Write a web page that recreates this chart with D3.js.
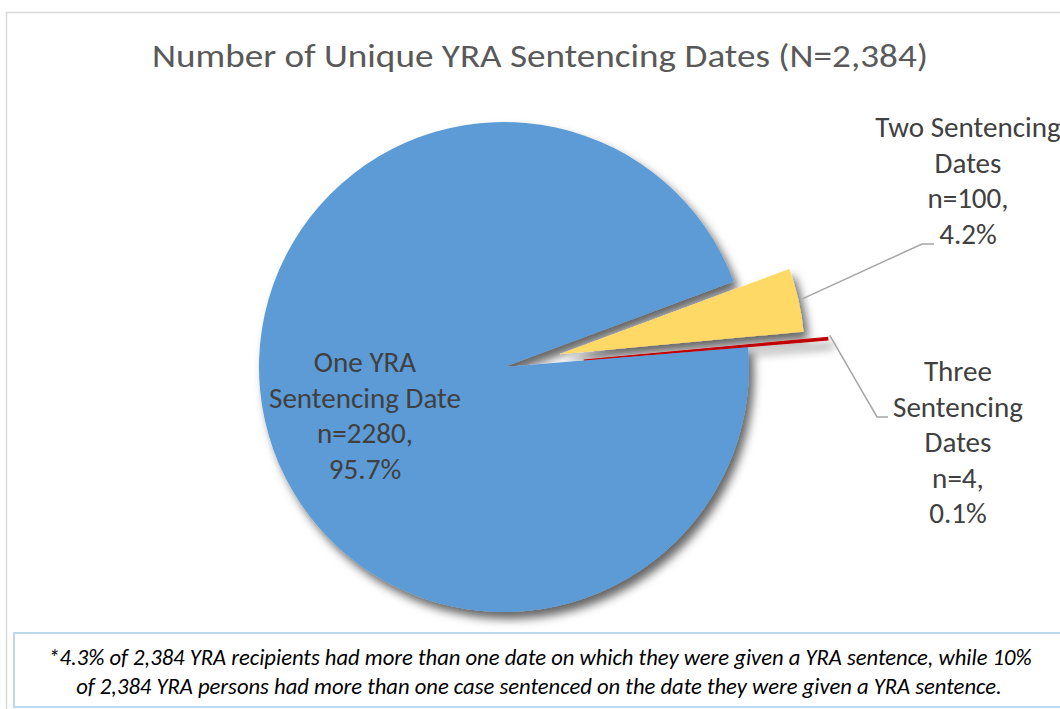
<!DOCTYPE html>
<html>
<head>
<meta charset="utf-8">
<script src="https://cdn.jsdelivr.net/npm/d3@7"></script>
<style>
  body { margin: 0; background: #fff; }
  svg { display: block; }
</style>
</head>
<body>
<svg id="chart" width="1060" height="709"></svg>
<script>
// data
const categories = ['One YRA Sentencing Date', 'Two Sentencing Dates', 'Three Sentencing Dates'];
const counts = [2280, 100, 4];
const percents = ['95.7%', '4.2%', '0.1%'];
const labelLines = [
    ['One YRA', 'Sentencing Date', 'n=2280,', '95.7%'],
    ['Two Sentencing', 'Dates', 'n=100,', '4.2%'],
    ['Three', 'Sentencing', 'Dates', 'n=4,', '0.1%']
];
const title = 'Number of Unique YRA Sentencing Dates (N=2,384)';
const footnote = [
    '*4.3% of 2,384 YRA recipients had more than one date on which they were given a YRA sentence, while 10%',
    'of 2,384 YRA persons had more than one case sentenced on the date they were given a YRA sentence.'
];

const colors = ['#5b9bd5', '#ffd966', '#c00000'];
const explode = [0, 57, 80];
const FONT = "Carlito, Calibri, Lato, 'Open Sans', sans-serif";

const svg = d3.select('#chart');
const cx = 504, cy = 367, r = 245;

// shadow filter
const defs = svg.append('defs');
defs.append('filter')
    .attr('id', 'shadow')
    .attr('x', '-20%').attr('y', '-20%')
    .attr('width', '140%').attr('height', '140%')
    .append('feDropShadow')
    .attr('dx', 5).attr('dy', 7)
    .attr('stdDeviation', 5)
    .attr('flood-color', '#000')
    .attr('flood-opacity', 0.6);

// chart frame
svg.append('rect')
    .attr('x', 6.5).attr('y', 12.5)
    .attr('width', 1100).attr('height', 800)
    .attr('fill', '#fff')
    .attr('stroke', '#d9d9d9')
    .attr('stroke-width', 1.5);

// fit a text to a target width by measuring it
function fit(sel, target) {
    sel.attr('font-size', 100);
    const len = sel.node().getComputedTextLength();
    sel.attr('font-size', 100 * target / len);
    return 100 * target / len;
}

// title (Calibri is narrower, so squeeze to the reference width)
svg.append('text')
    .attr('x', 540).attr('y', 67)
    .attr('text-anchor', 'middle')
    .attr('font-family', FONT)
    .attr('font-size', 32)
    .attr('textLength', 776)
    .attr('lengthAdjust', 'spacingAndGlyphs')
    .attr('fill', '#595959')
    .text(title);

// pie
const a0 = 85.3 * Math.PI / 180;
const pie = d3.pie().sort(null).startAngle(a0).endAngle(a0 + 2 * Math.PI);
const arc = d3.arc().innerRadius(0).outerRadius(r);
const arcs = pie(counts);

const dir = a => [Math.sin(a), -Math.cos(a)];

const g = svg.append('g')
    .attr('transform', `translate(${cx},${cy})`)
    .attr('filter', 'url(#shadow)');

g.selectAll('path')
    .data(arcs)
    .join('path')
    .attr('d', arc)
    .attr('fill', (d, i) => colors[i])
    .attr('stroke', (d, i) => i === 2 ? colors[i] : 'none')
    .attr('stroke-width', 1.2)
    .attr('transform', (d, i) => {
        const m = (d.startAngle + d.endAngle) / 2;
        const [ux, uy] = dir(m);
        return `translate(${ux * explode[i]},${uy * explode[i]})`;
    });

// label font size from "Sentencing" width
const probe = svg.append('text').attr('font-family', FONT).text('Sentencing');
const labelSize = fit(probe, 130);
probe.remove();

// leader lines
const leaderEnds = [null, [[922, 244], [934, 244]], [[877, 417], [888, 417]]];
const line = d3.line();
arcs.forEach((d, i) => {
    if (!leaderEnds[i]) return;
    const m = (d.startAngle + d.endAngle) / 2;
    const [ux, uy] = dir(m);
    const rr = explode[i] + r + (i === 2 ? 2 : 4);
    const p0 = [cx + ux * rr, cy + uy * rr - (i === 2 ? 3 : 0)];
    svg.append('path')
        .attr('d', line([p0, ...leaderEnds[i]]))
        .attr('fill', 'none')
        .attr('stroke', '#a6a6a6')
        .attr('stroke-width', 1.5);
});

// labels
const labelPos = [[365, 372], [968, 137], [958, 381]];
const lineGap = 35.5;
labelLines.forEach((lines, i) => {
    const txt = svg.append('text')
        .attr('text-anchor', 'middle')
        .attr('font-family', FONT)
        .attr('font-size', labelSize)
        .attr('fill', '#404040');
    lines.forEach((s, j) => {
        txt.append('tspan')
            .attr('x', labelPos[i][0])
            .attr('y', labelPos[i][1] + j * lineGap)
            .text(s);
    });
});

// footnote box
svg.append('rect')
    .attr('x', 14).attr('y', 633)
    .attr('width', 1100).attr('height', 74)
    .attr('fill', '#fff')
    .attr('stroke', '#bdd7ee')
    .attr('stroke-width', 2);

const f1 = svg.append('text')
    .attr('x', 540).attr('y', 665)
    .attr('text-anchor', 'middle')
    .attr('font-family', FONT)
    .attr('font-style', 'italic')
    .attr('fill', '#000')
    .text(footnote[0]);
const fs = fit(f1, 984);
svg.append('text')
    .attr('x', 539).attr('y', 694)
    .attr('text-anchor', 'middle')
    .attr('font-family', FONT)
    .attr('font-style', 'italic')
    .attr('font-size', fs)
    .attr('fill', '#000')
    .text(footnote[1]);
</script>
</body>
</html>
